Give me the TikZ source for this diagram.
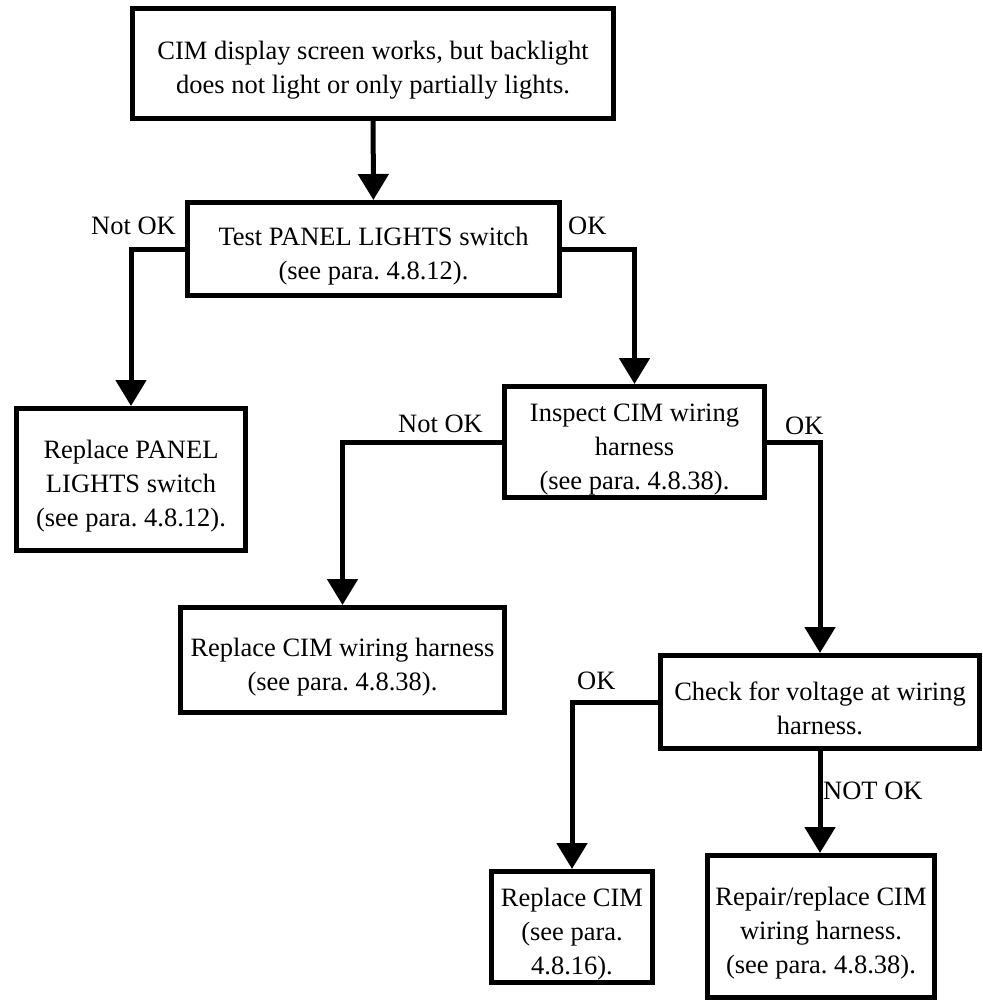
\documentclass[tikz,border=0pt]{standalone}
\usepackage{fontspec}
\setmainfont{Liberation Serif}
\usetikzlibrary{arrows.meta}
\frenchspacing
\newcommand\topgap{\rule{0pt}{32pt}}

\tikzset{
  box/.style={draw, line width=5pt, align=center, inner sep=0pt,
    font=\fontsize{26.5pt}{34pt}\selectfont},
  flow/.style={line width=5pt, -{Triangle[width=30pt,length=26pt]}},
  tag/.style={inner sep=0pt, font=\fontsize{26.5pt}{34pt}\selectfont}
}

\begin{document}
\begin{tikzpicture}[x=1pt,y=-1pt]
\useasboundingbox (0,0) rectangle (982,1000);

\node[box, minimum width=481pt, minimum height=110pt] (start) at (373,63.5)
  {\topgap CIM display screen works, but backlight\\does not light or only partially lights.};
\node[box, minimum width=372pt, minimum height=93pt] (test) at (373.5,249)
  {\topgap Test PANEL LIGHTS switch\\(see para. 4.8.12).};
\node[box, minimum width=229pt, minimum height=142pt] (replpanel) at (131,479.5)
  {\topgap Replace PANEL\\LIGHTS switch\\(see para. 4.8.12).};
\node[box, minimum width=260pt, minimum height=111pt] (inspect) at (634.5,442)
  {\topgap Inspect CIM wiring\\harness\\(see para. 4.8.38).};
\node[box, minimum width=324pt, minimum height=105pt] (replharness) at (342.5,660)
  {\topgap Replace CIM wiring harness\\(see para. 4.8.38).};
\node[box, minimum width=319pt, minimum height=93pt] (check) at (820,702)
  {\topgap Check for voltage at wiring\\harness.};
\node[box, minimum width=161pt, minimum height=111pt] (replcim) at (572,927)
  {\topgap Replace CIM\\(see para.\\4.8.16).};
\node[box, minimum width=227pt, minimum height=142pt] (repair) at (821,926.5)
  {\topgap Repair/replace CIM\\wiring harness.\\(see para. 4.8.38).};

\draw[flow] (start) -- (test);
\draw[flow] (test.west) -| (replpanel.north);
\draw[flow] (test.east) -| (inspect.north);
\draw[flow] (inspect.west) -| (replharness.north);
\draw[flow] (inspect.east) -| (check.north);
\draw[flow] (check.west) -| (replcim.north);
\draw[flow] (check.south) -- (repair.north -| check.south);

\node[tag, anchor=south east] (nok1) at (176,235) {Not OK};
\node[tag, anchor=south west] (ok1) at (568,235) {OK};
\node[tag, anchor=south east] (nok2) at (483,433) {Not OK};
\node[tag, anchor=south west] (ok2) at (785,435) {OK};
\node[tag, anchor=south west] (ok3) at (577,690) {OK};
\node[tag, anchor=south west] (nok3) at (823,800) {NOT OK};
\end{tikzpicture}
\end{document}
